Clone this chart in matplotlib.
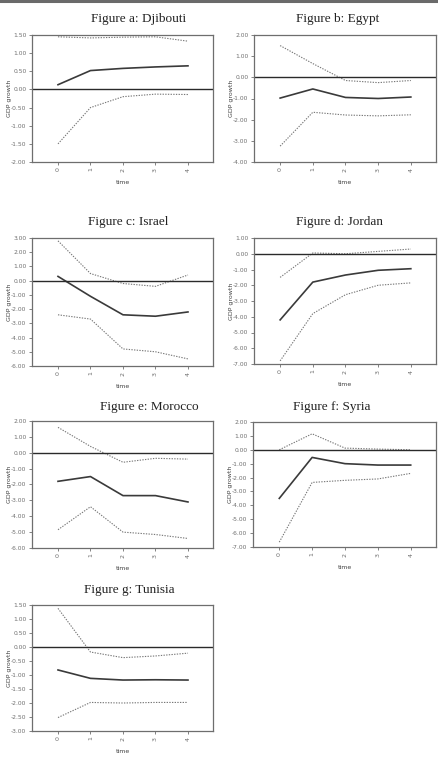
import matplotlib
matplotlib.use("Agg")
import matplotlib.pyplot as plt
from matplotlib.lines import Line2D

W, H = 439, 772

steps = [0, 1, 2, 3, 4]

titles = [
    "Figure a: Djibouti",
    "Figure b: Egypt",
    "Figure c: Israel",
    "Figure d: Jordan",
    "Figure e: Morocco",
    "Figure f: Syria",
    "Figure g: Tunisia",
]

# upper band, response, lower band
djibouti_up = [1.45, 1.42, 1.44, 1.45, 1.33]
djibouti_mid = [0.13, 0.52, 0.58, 0.62, 0.65]
djibouti_low = [-1.50, -0.50, -0.20, -0.13, -0.14]

egypt_up = [1.50, 0.65, -0.15, -0.25, -0.15]
egypt_mid = [-0.98, -0.55, -0.95, -1.00, -0.93]
egypt_low = [-3.25, -1.65, -1.78, -1.82, -1.77]

israel_up = [2.80, 0.50, -0.20, -0.40, 0.40]
israel_mid = [0.30, -1.10, -2.40, -2.50, -2.20]
israel_low = [-2.40, -2.70, -4.80, -5.00, -5.50]

jordan_up = [-1.50, 0.05, 0.00, 0.15, 0.30]
jordan_mid = [-4.20, -1.80, -1.35, -1.05, -0.95]
jordan_low = [-6.80, -3.80, -2.60, -2.00, -1.85]

morocco_up = [1.60, 0.40, -0.60, -0.35, -0.40]
morocco_mid = [-1.80, -1.50, -2.70, -2.70, -3.10]
morocco_low = [-4.85, -3.40, -5.00, -5.15, -5.40]

syria_up = [0.00, 1.15, 0.12, 0.05, 0.00]
syria_mid = [-3.50, -0.55, -1.00, -1.10, -1.10]
syria_low = [-6.65, -2.35, -2.20, -2.10, -1.70]

tunisia_up = [1.38, -0.18, -0.38, -0.32, -0.22]
tunisia_mid = [-0.82, -1.12, -1.18, -1.17, -1.18]
tunisia_low = [-2.52, -1.98, -2.00, -1.98, -1.98]

ups = [djibouti_up, egypt_up, israel_up, jordan_up, morocco_up, syria_up, tunisia_up]
mids = [djibouti_mid, egypt_mid, israel_mid, jordan_mid, morocco_mid, syria_mid, tunisia_mid]
lows = [djibouti_low, egypt_low, israel_low, jordan_low, morocco_low, syria_low, tunisia_low]

# y limits and tick step
y_ranges = [(-2.0, 1.5, 0.5), (-4.0, 2.0, 1.0), (-6.0, 3.0, 1.0), (-7.0, 1.0, 1.0),
            (-6.0, 2.0, 1.0), (-7.0, 2.0, 1.0), (-3.0, 1.5, 0.5)]

# axes boxes in pixels: left, top, right, bottom
boxes = [(32, 35, 213, 162), (254, 35, 436, 162),
         (32, 238, 213, 366), (254, 238, 436, 364),
         (32, 421, 213, 548), (253, 422, 436, 547),
         (32, 605, 213, 731)]
# title centres in pixels
title_pos = [(139, 19), (338, 19), (128, 222), (340, 222),
             (149, 407), (332, 407), (129, 590)]

small_font = ["Liberation Sans Narrow", "DejaVu Sans"]
spine_col = "#6e6e6e"

fig = plt.figure(figsize=(W / 100, H / 100), dpi=100)

# grey rule at the top of the page
fig.add_artist(Line2D([0, 1], [1 - 1.2 / H, 1 - 1.2 / H], color="#6a6a6a", lw=2.2))

for i in range(len(titles)):
    l, t, r, b = boxes[i]
    ax = fig.add_axes([l / W, 1 - b / H, (r - l) / W, (b - t) / H])
    lo, hi, step = y_ranges[i]

    ax.plot(steps, ups[i], color="#777777", lw=0.8, ls=(0, (1.2, 1.2)))
    ax.plot(steps, lows[i], color="#777777", lw=0.8, ls=(0, (1.2, 1.2)))
    ax.plot(steps, mids[i], color="#3a3a3a", lw=1.2)
    ax.axhline(0, color="#2a2a2a", lw=1.0)

    ax.set_xlim(-0.8, 4.77)
    ax.set_ylim(lo, hi)
    n = int(round((hi - lo) / step))
    yt = [lo + k * step for k in range(n + 1)]
    ax.set_yticks(yt)
    ax.set_yticklabels(["%.2f" % v for v in yt], fontsize=4.3, family=small_font, color="#555555")
    ax.set_xticks(steps)
    ax.set_xticklabels([str(s) for s in steps], fontsize=4.5, family=small_font,
                       color="#555555", rotation=90)
    ax.tick_params(direction="out", length=2.5, width=0.6, colors=spine_col, pad=1.5)
    for s in ax.spines.values():
        s.set_color(spine_col)
        s.set_linewidth(0.9)

    ax.set_xlabel("time", fontsize=4.5, family=small_font, color="#444444", labelpad=6)
    ax.set_ylabel("GDP growth", fontsize=4.5, family=small_font, color="#444444")
    ax.yaxis.set_label_coords(-20.0 / (r - l), 0.5)

    tx, ty = title_pos[i]
    fig.text(tx / W, 1 - ty / H, titles[i], ha="center", va="center",
             family=["Liberation Serif", "DejaVu Serif"], fontsize=9.5, color="#222222")

fig.savefig("out.png", dpi=100)
